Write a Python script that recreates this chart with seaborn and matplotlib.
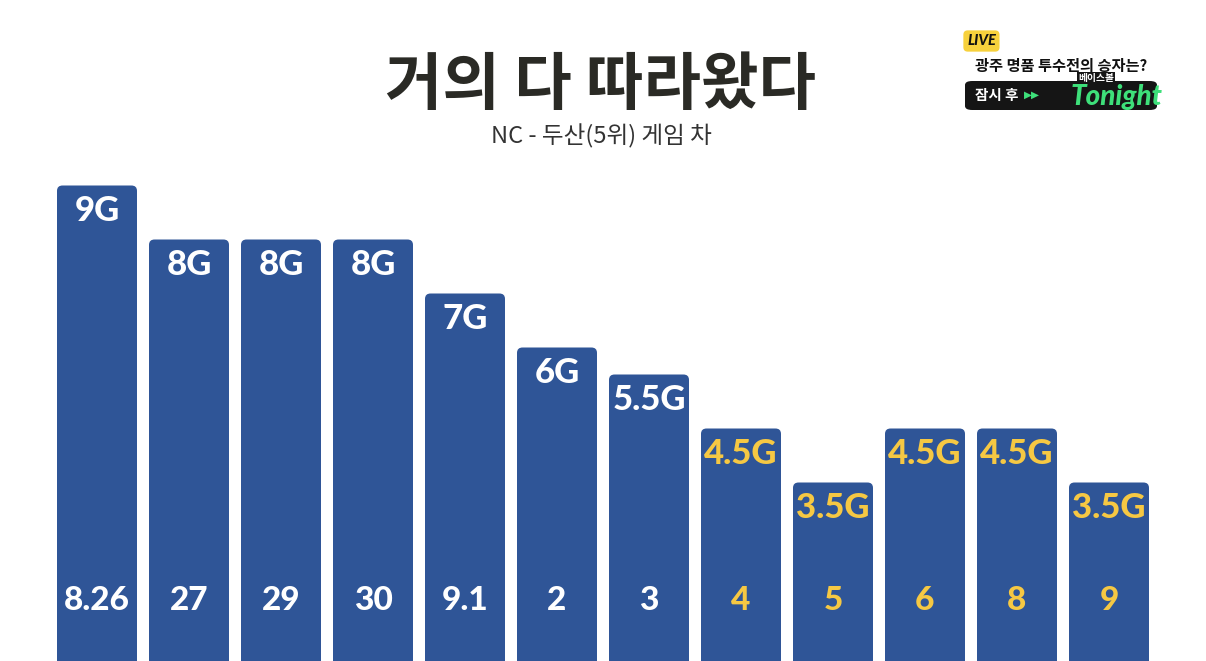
import seaborn as sns
import matplotlib.pyplot as plt
import pandas as pd
from matplotlib.patches import FancyBboxPatch

# 날짜(막대 아래 표시)와 게임 차
dates = ['8.26', '27', '29', '30', '9.1', '2', '3', '4', '5', '6', '8', '9']
gaps = [9, 8, 8, 8, 7, 6, 5.5, 4.5, 3.5, 4.5, 4.5, 3.5]
gap_labels = ['9G', '8G', '8G', '8G', '7G', '6G', '5.5G', '4.5G', '3.5G', '4.5G', '4.5G', '3.5G']

df = pd.DataFrame({'date': dates, 'gap': gaps})

BLUE = '#2f5597'
YELLOW = '#f6c843'
DARK = '#2a2a25'

sns.set_style('white')
plt.rcParams['font.family'] = ['Noto Sans CJK KR', 'DejaVu Sans']

fig = plt.figure(figsize=(12.06, 6.61), dpi=100)
fig.patch.set_facecolor('white')
px_per_g = 54.0
below = 10.5  # 0 기준선이 화면 아래로 조금 내려가 있음
ax = fig.add_axes([51 / 1206, -below / 661, 1104 / 1206, (661 + below) / 661])

sns.barplot(data=df, x='date', y='gap', color=BLUE, saturation=1, width=80 / 92, ax=ax)
ax.set_xlim(-0.5, 11.5)
ax.set_ylim(0, (661 + below) / px_per_g)
ax.axis('off')

# 막대 윗부분 둥글게
bars = list(ax.patches)
for p in bars:
    x, y, w, h = p.get_x(), p.get_y(), p.get_width(), p.get_height()
    p.remove()
    fb = FancyBboxPatch((x, y), w, h, boxstyle='round,pad=0,rounding_size=0.06',
                        mutation_aspect=(5 / px_per_g) / (5 / 92) * 0.98,
                        facecolor=BLUE, edgecolor='none')
    ax.add_patch(fb)

for i, p in enumerate(bars):
    cx = p.get_x() + p.get_width() / 2
    top = p.get_height()
    c = 'white' if i < 7 else YELLOW
    ax.text(cx, top - 25 / px_per_g, gap_labels[i], ha='center', va='center',
            color=c, fontsize=25, fontweight='black', family=['Lato', 'DejaVu Sans'])
    ax.text(cx, (661 - 600 + below) / px_per_g, dates[i], ha='center', va='center',
            color=c, fontsize=24, fontweight='black', family=['Lato', 'DejaVu Sans'])

# 제목
fig.text(0.498, 1 - 85 / 661, '거의 다 따라왔다', ha='center', va='center',
         fontsize=45, fontweight='heavy', color=DARK)
fig.text(0.499, 1 - 136 / 661, 'NC - 두산(5위) 게임 차', ha='center', va='center',
         fontsize=17, color='#333333')

# 오른쪽 위 방송 로고
fig.text(967 / 1206, 1 - 41 / 661, 'LIVE', ha='left', va='center', fontsize=10.5,
         fontweight='black', fontstyle='italic', color='#111111', family=['Lato', 'DejaVu Sans'],
         bbox=dict(boxstyle='round,pad=0.25,rounding_size=0.3', fc='#f7d13c', ec='none'))
fig.text(975 / 1206, 1 - 66 / 661, '광주 명품 투수전의 승자는?', ha='left', va='center',
         fontsize=11, fontweight='bold', color='#111111')
box = FancyBboxPatch((965 / 1206, 1 - 110 / 661), 192 / 1206, 29 / 661,
                     boxstyle='round,pad=0,rounding_size=0.006', transform=fig.transFigure,
                     facecolor='#151515', edgecolor='none')
fig.patches.append(box)
fig.text(975 / 1206, 1 - 95 / 661, '잠시 후', ha='left', va='center', fontsize=10.5,
         fontweight='bold', color='white')
fig.text(1024 / 1206, 1 - 95 / 661, '▶▶', ha='left', va='center', fontsize=7.5,
         color='#3ee07a', family=['DejaVu Sans'])
fig.text(1078 / 1206, 1 - 78 / 661, '베이스볼', ha='left', va='center', fontsize=7,
         fontweight='bold', color='white',
         bbox=dict(boxstyle='square,pad=0.1', fc='#151515', ec='none'))
fig.text(1116 / 1206, 1 - 97 / 661, 'Tonight', ha='center', va='center', fontsize=20,
         fontweight='black', fontstyle='italic', color='#3ee07a',
         family=['Lato', 'DejaVu Sans'])

fig.savefig('out.png', dpi=100, facecolor='white')
